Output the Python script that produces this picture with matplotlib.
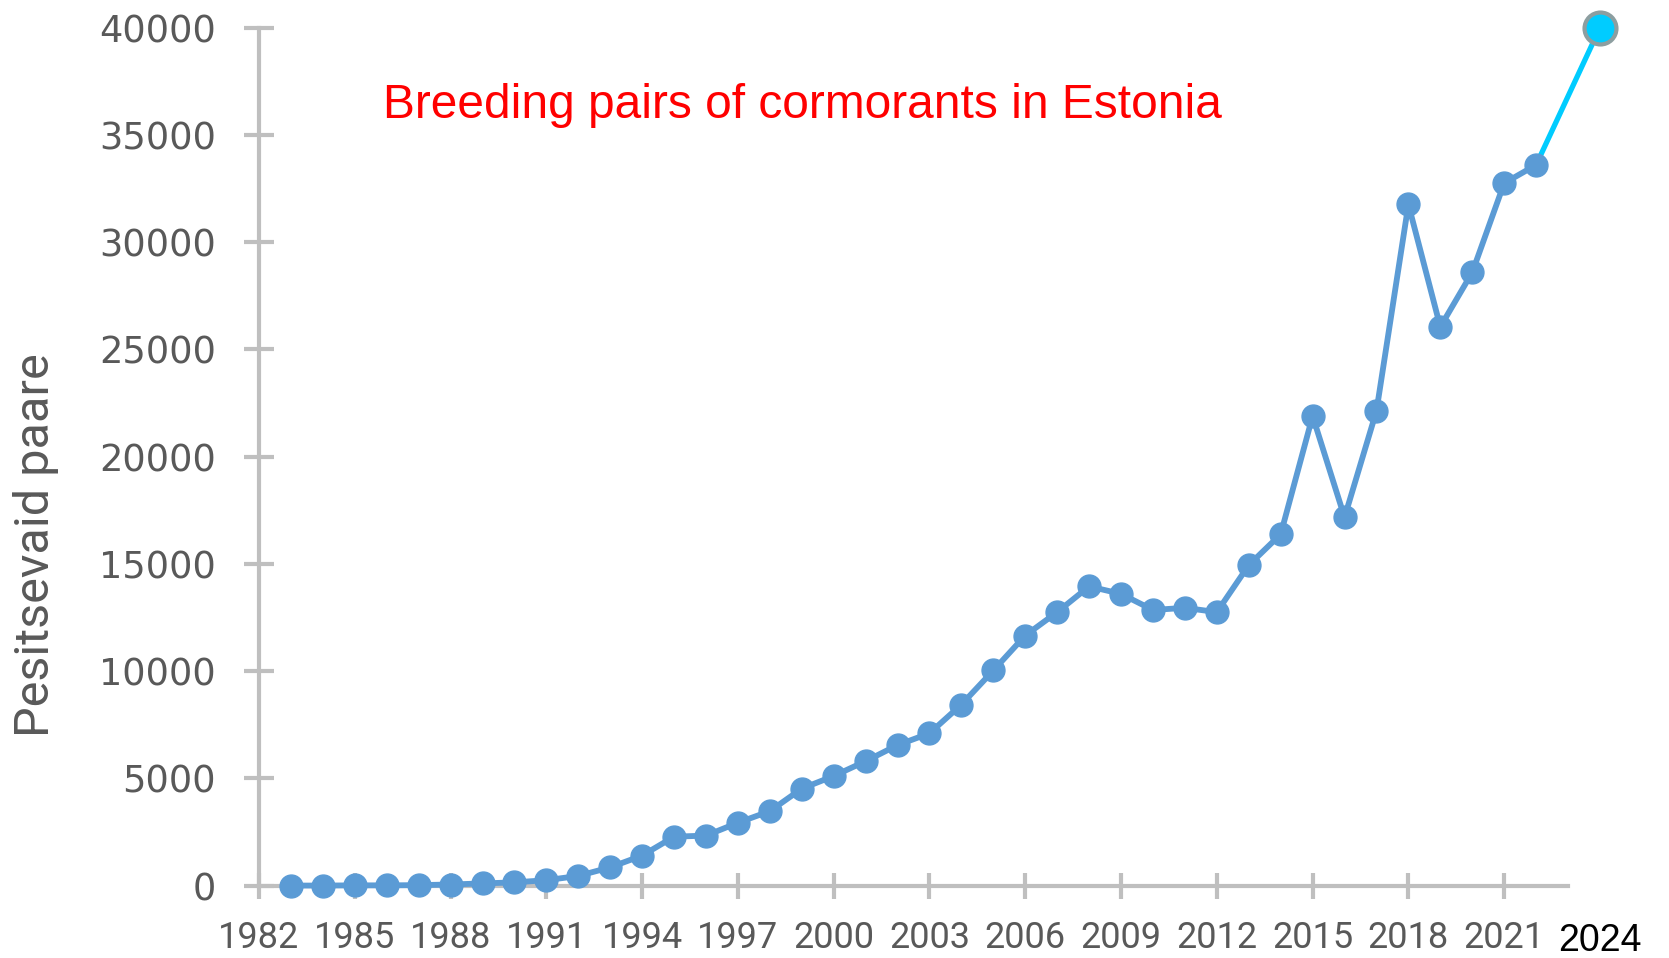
import matplotlib
matplotlib.use("Agg")
import matplotlib.pyplot as plt

# Pesitsevad kormoranipaarid Eestis
aastad = [1983, 1984, 1985, 1986, 1987, 1988, 1989, 1990, 1991, 1992,
          1993, 1994, 1995, 1996, 1997, 1998, 1999, 2000, 2001, 2002,
          2003, 2004, 2005, 2006, 2007, 2008, 2009, 2010, 2011, 2012,
          2013, 2014, 2015, 2016, 2017, 2018, 2019, 2020, 2021, 2022]
paare = [0, 0, 10, 10, 20, 50, 100, 150, 250, 450,
         850, 1400, 2280, 2330, 2930, 3470, 4520, 5110, 5800, 6550,
         7100, 8440, 10030, 11660, 12750, 13950, 13600, 12850, 12950, 12750,
         14940, 16380, 21890, 17170, 22130, 31760, 26050, 28590, 32750, 33600]

# 2024 hinnang
aasta_uus = 2024
paare_uus = 40000

x_ticks = list(range(1982, 2022, 3))
y_ticks = list(range(0, 40001, 5000))

pealkiri = "Breeding pairs of cormorants in Estonia"
y_silt = "Pesitsevaid paare"

sinine = "#5b9bd5"
helesinine = "#00ccff"
hall = "#bfbfbf"
teksti_hall = "#595959"
kitsas = ["Roboto", "DejaVu Sans"]

fig = plt.figure(figsize=(16.69, 9.58), dpi=100)
ax = fig.add_axes([0.1552, 0.0756, 0.7843, 0.8955])

# viimane lõik 2022 -> 2024
ax.plot([aastad[-1], aasta_uus], [paare[-1], paare_uus], color=helesinine,
        linewidth=3.8, clip_on=False, zorder=2)
ax.plot(aastad, paare, color=sinine, linewidth=4.2, marker="o",
        markersize=16.5, clip_on=False, zorder=3)
ax.plot([aasta_uus], [paare_uus], marker="o", markersize=23,
        markerfacecolor=helesinine, markeredgecolor="#8c9ea0",
        markeredgewidth=3, clip_on=False, zorder=4)

ax.set_xlim(1982, 2023)
ax.set_ylim(0, 40000)

for s in ["top", "right"]:
    ax.spines[s].set_visible(False)
for s in ["left", "bottom"]:
    ax.spines[s].set_color(hall)
    ax.spines[s].set_linewidth(3)

ax.set_xticks(x_ticks)
ax.set_xticklabels([str(a) for a in x_ticks], family=kitsas, fontsize=26,
                   color=teksti_hall)
ax.set_yticks(y_ticks)
ax.set_yticklabels([str(v) for v in y_ticks], family="DejaVu Sans",
                   fontsize=26.5, color=teksti_hall)
ax.tick_params(axis="x", direction="inout", length=19, width=3, color=hall, pad=15)
ax.tick_params(axis="y", direction="inout", length=22, width=3, color=hall, pad=20)

ax.text(2024, -2600, "2024", family=["Liberation Sans", "DejaVu Sans"],
        fontsize=27, color="black", ha="center", va="center", clip_on=False)

ax.set_ylabel(y_silt, family=kitsas, fontsize=35, color=teksti_hall)
ax.yaxis.set_label_coords(-0.153, 0.397)

fig.text(383 / 1669, 1 - 105 / 958, pealkiri, color="red", fontsize=34.5,
         family=["Liberation Sans", "DejaVu Sans"], ha="left", va="center")

fig.savefig("out.png", dpi=100)
